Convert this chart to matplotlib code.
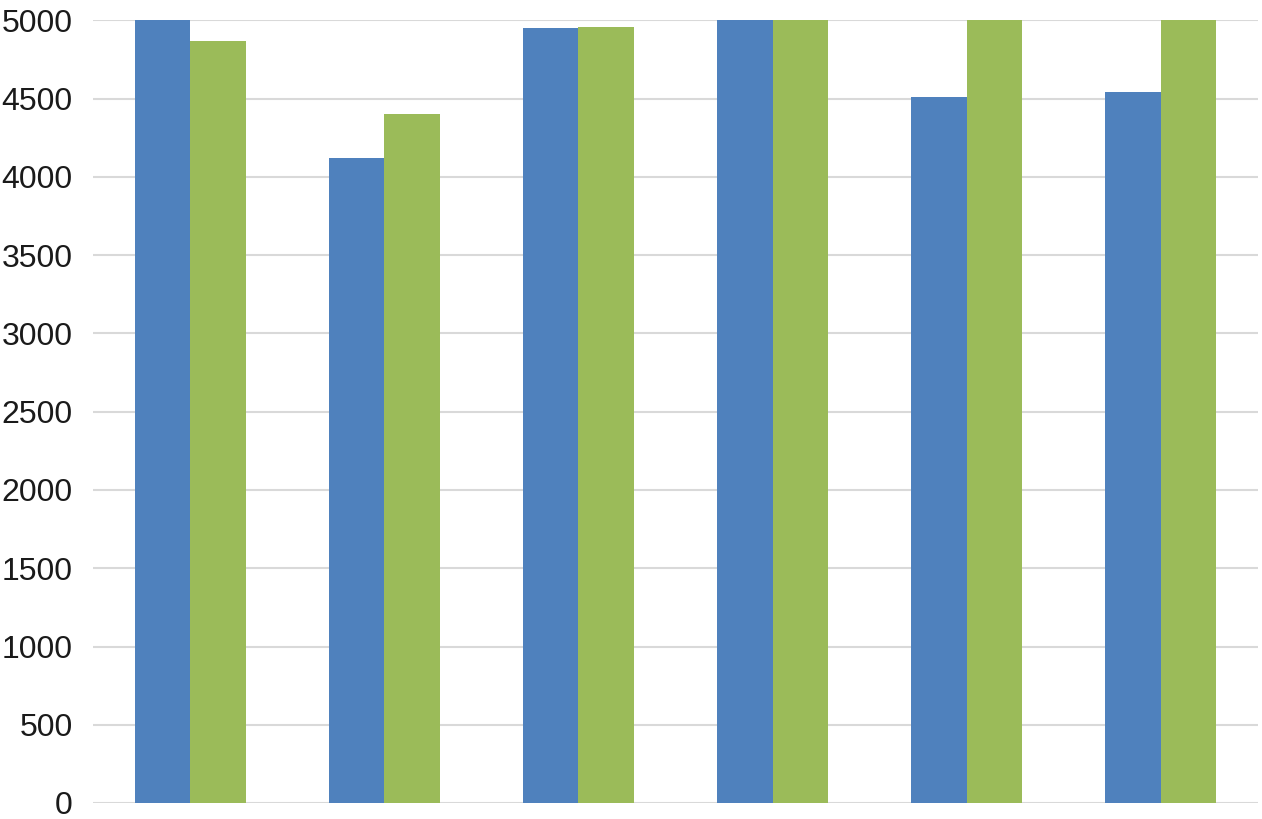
import matplotlib.pyplot as plt
import numpy as np

# values; bars that run past the 5000 cap are clipped by the axis
groups = ['1', '2', '3', '4', '5', '6']
blue_vals = [5100, 4120, 4950, 5100, 4510, 4540]
green_vals = [4870, 4400, 4960, 5100, 5100, 5100]
yticks = [0, 500, 1000, 1500, 2000, 2500, 3000, 3500, 4000, 4500, 5000]

plt.rcParams['font.family'] = ['Liberation Sans', 'DejaVu Sans']

fig = plt.figure(figsize=(12.62, 8.19), dpi=100)
ax = fig.add_axes([93 / 1262, 16 / 819, 1165 / 1262, 782.5 / 819])

x = np.arange(len(groups))
w = 0.286  # Excel-style gap width of 75%
ax.bar(x - w / 2, blue_vals, width=w, color='#4f81bd', zorder=2)
ax.bar(x + w / 2, green_vals, width=w, color='#9bbb59', zorder=2)

ax.set_xlim(-0.5, len(groups) - 0.5)
ax.set_ylim(0, 5000)
ax.set_yticks(yticks)
ax.set_yticklabels([str(t) for t in yticks], fontsize=23, color='#1a1a1a')
ax.set_xticks([])
ax.tick_params(axis='y', length=0, pad=14.5)
ax.grid(axis='y', color='#d9d9d9', linewidth=1.5, zorder=0)
for s in ax.spines.values():
    s.set_visible(False)

fig.savefig('out.png', dpi=100)
